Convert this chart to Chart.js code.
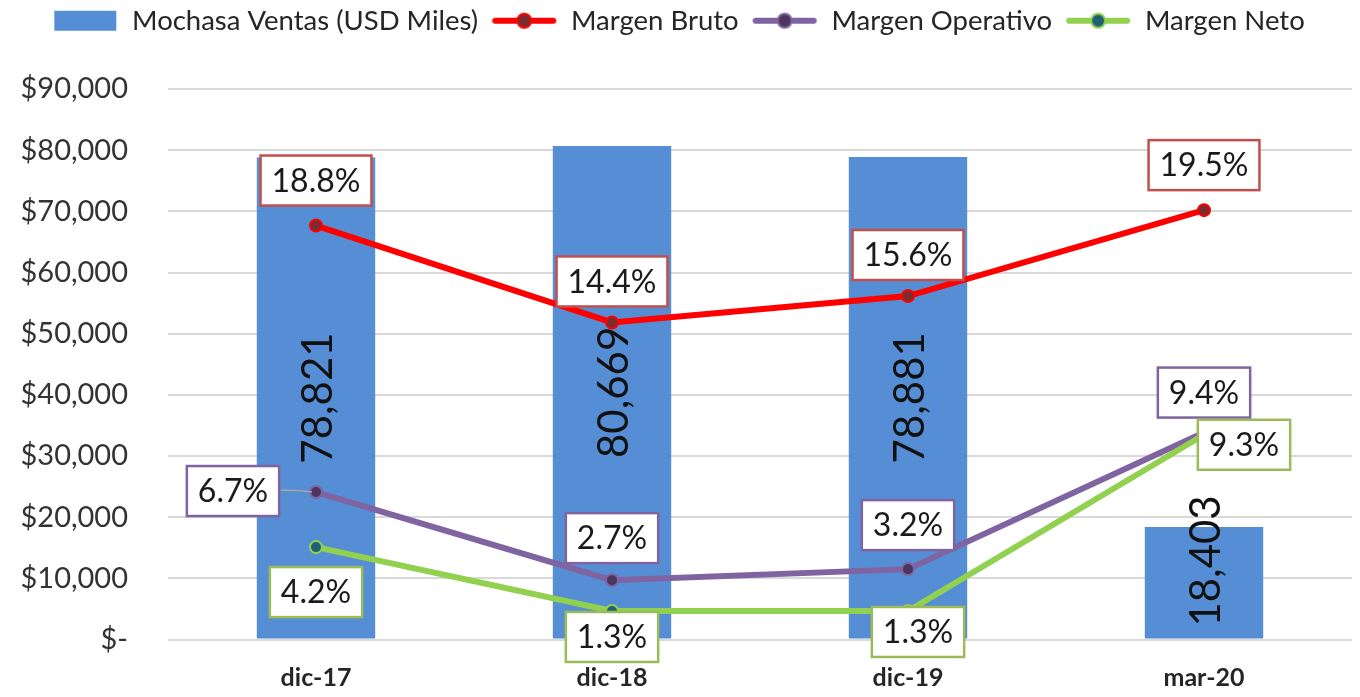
<!DOCTYPE html>
<html>
<head>
<meta charset="utf-8">
<script src="https://cdn.jsdelivr.net/npm/chart.js@4"></script>
<style>
html,body{margin:0;padding:0;background:#fff;overflow:hidden}
canvas{display:block}
</style>
</head>
<body>
<canvas id="chart" width="1360" height="697"></canvas>
<script>
/* ====================================
   DATA
==================================== */

const periods=["dic-17","dic-18","dic-19","mar-20"]

// ventas en miles de USD (eje izquierdo)
const ventas=[78821,80669,78881,18403]

// margenes en % (eje derecho oculto, 0 - 25)
const margenBruto=[18.8,14.4,15.6,19.5]
const margenOperativo=[6.7,2.7,3.2,9.4]
const margenNeto=[4.2,1.3,1.3,9.3]

const yTicks=[0,10000,20000,30000,40000,50000,60000,70000,80000,90000]


/* ====================================
   COLORS / FONTS
==================================== */

const FONT="Lato, 'Open Sans', sans-serif"
const TEXT="#262626"

const BLUE="#558ed5"
const RED="#ff0000"
const PURPLE="#8064a2"
const GREEN="#92d050"


/* ====================================
   LEGEND ICONS (line + marker)
==================================== */

function legendIcon(kind,color,dot){
const c=document.createElement("canvas")
c.width=66
c.height=22
const g=c.getContext("2d")
if(kind==="bar"){
g.fillStyle=color
g.fillRect(2,1,62,20)
}else{
g.strokeStyle=color
g.lineWidth=6
g.lineCap="round"
g.beginPath()
g.moveTo(4,11)
g.lineTo(62,11)
g.stroke()
g.beginPath()
g.arc(33,11,7,0,Math.PI*2)
g.fillStyle=dot
g.fill()
g.lineWidth=2
g.stroke()
}
return c
}

const icons=[
legendIcon("bar",BLUE),
legendIcon("line",RED,"#7b2c2c"),
legendIcon("line",PURPLE,"#4b3660"),
legendIcon("line",GREEN,"#1f6073")
]


/* ====================================
   LABEL PLACEMENT (offset of box centre from point)
==================================== */

const labelOffsets=[
null,
[[0,-45],[0,-41],[0,-41],[0,-45]],
[[-83,-1],[0,-42],[0,-44],[0,-40]],
[[0,45],[0,26],[10,21],[40,10]]
]

const labelBorders=[null,"#c0504d","#8064a2","#9bbb59"]

// bar value label anchor
const barAnchor=["center","center","center","base"]


/* ====================================
   PLUGINS
==================================== */

const legendGap={
id:"legendGap",
beforeInit(chart){
const fit=chart.legend.fit
chart.legend.fit=function(){
fit.bind(chart.legend)()
this.height=95
}
}
}

const valueLabels={
id:"valueLabels",

afterDatasetDraw(chart,args){
if(args.index!==0) return
const ctx=chart.ctx
const meta=chart.getDatasetMeta(0)
ctx.save()
ctx.fillStyle="#111"
ctx.font="42px "+FONT
ctx.textBaseline="middle"
meta.data.forEach((bar,i)=>{
const v=ventas[i].toLocaleString("en-US")
ctx.save()
if(barAnchor[i]==="base"){
ctx.translate(bar.x+2,bar.base-12)
ctx.rotate(-Math.PI/2)
ctx.textAlign="left"
}else{
ctx.translate(bar.x+2,(bar.y+bar.base)/2)
ctx.rotate(-Math.PI/2)
ctx.textAlign="center"
}
ctx.fillText(v,0,0)
ctx.restore()
})
ctx.restore()
},

afterDatasetsDraw(chart){
const ctx=chart.ctx
ctx.save()
ctx.font="32px "+FONT
ctx.textAlign="center"
ctx.textBaseline="middle"
for(let d=1;d<=3;d++){
const meta=chart.getDatasetMeta(d)
const vals=chart.data.datasets[d].data
meta.data.forEach((pt,i)=>{
const txt=vals[i].toFixed(1)+"%"
const off=labelOffsets[d][i]
const cx=pt.x+off[0]
const cy=pt.y+off[1]
const w=ctx.measureText(txt).width+22
const h=50

// leader line when label sits to the side
if(Math.abs(off[0])>60){
ctx.strokeStyle="#a6a6a6"
ctx.lineWidth=1.5
ctx.beginPath()
ctx.moveTo(cx+w/2,cy-1)
ctx.quadraticCurveTo(pt.x-18,cy-1,pt.x-4,pt.y)
ctx.stroke()
}

ctx.fillStyle="#fff"
ctx.fillRect(cx-w/2,cy-h/2,w,h)
ctx.strokeStyle=labelBorders[d]
ctx.lineWidth=2.5
ctx.strokeRect(cx-w/2,cy-h/2,w,h)
ctx.fillStyle="#1a1a1a"
ctx.fillText(txt,cx,cy+1)
})
}
ctx.restore()
}
}


/* ====================================
   CHART
==================================== */

new Chart(document.getElementById("chart"),{

data:{
labels:periods,
datasets:[
{
type:"bar",
label:"Mochasa Ventas (USD Miles)",
data:ventas,
backgroundColor:BLUE,
yAxisID:"y",
barPercentage:0.4,
categoryPercentage:1,
order:4
},
{
type:"line",
label:"Margen Bruto",
data:margenBruto,
borderColor:RED,
borderWidth:6,
pointRadius:6,
pointBorderWidth:2,
pointBackgroundColor:"#7b2c2c",
pointBorderColor:RED,
yAxisID:"y1",
order:3
},
{
type:"line",
label:"Margen Operativo",
data:margenOperativo,
borderColor:PURPLE,
borderWidth:6,
pointRadius:6,
pointBorderWidth:2,
pointBackgroundColor:"#4b3660",
pointBorderColor:PURPLE,
yAxisID:"y1",
order:2
},
{
type:"line",
label:"Margen Neto",
data:margenNeto,
borderColor:GREEN,
borderWidth:6,
pointRadius:6,
pointBorderWidth:2,
pointBackgroundColor:"#1f6073",
pointBorderColor:GREEN,
yAxisID:"y1",
order:1
}
]
},

options:{
responsive:false,
animation:false,
layout:{padding:{left:0,right:3,top:-6,bottom:0}},

plugins:{
tooltip:{enabled:false},
legend:{
position:"top",
align:"center",
labels:{
usePointStyle:true,
pointStyleWidth:66,
boxHeight:22,
padding:13,
color:TEXT,
font:{family:FONT,size:27.5},
sort:(a,b)=>a.datasetIndex-b.datasetIndex,
generateLabels(chart){
const items=Chart.defaults.plugins.legend.labels.generateLabels(chart)
items.forEach(it=>{it.pointStyle=icons[it.datasetIndex]})
return items
}
}
}
},

scales:{
x:{
grid:{display:false},
border:{display:false},
ticks:{
color:TEXT,
padding:15,
font:{family:FONT,size:25,weight:"bold"}
},
afterFit(s){s.height=53}
},
y:{
position:"left",
min:0,
max:90000,
afterBuildTicks(s){s.ticks=yTicks.map(v=>({value:v}))},
grid:{color:"#d9d9d9",lineWidth:2,drawTicks:false},
border:{display:false},
ticks:{
color:"#333",
padding:40,
font:{family:FONT,size:29},
callback:v=>v===0?"$-":"$"+v.toLocaleString("en-US")
},
afterFit(s){s.width=168}
},
y1:{
position:"right",
min:0,
max:25,
display:false
}
}
},

plugins:[legendGap,valueLabels]

})
</script>
</body>
</html>
